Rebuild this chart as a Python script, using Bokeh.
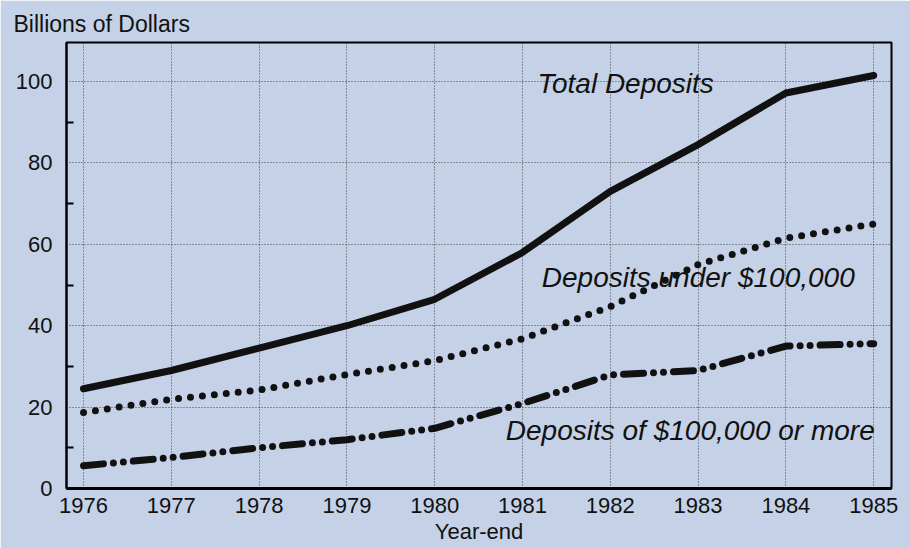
from bokeh.plotting import figure
from bokeh.models import Range1d, FixedTicker, Label
from bokeh.embed import file_html
from bokeh.resources import INLINE

years = [1976, 1977, 1978, 1979, 1980, 1981, 1982, 1983, 1984, 1985]
total = [24.5, 29.0, 34.5, 40.0, 46.5, 58.0, 73.0, 84.5, 97.2, 101.5]
under_100k = [18.7, 21.9, 24.2, 28.0, 31.4, 36.8, 44.7, 55.0, 61.5, 65.0]
over_100k = [5.6, 7.6, 10.0, 12.0, 14.8, 20.9, 27.9, 29.0, 35.0, 35.6]
y_ticks = [0, 20, 40, 60, 80, 100]
y_minor = [10, 30, 50, 70, 90]

BG = "#c4d1e6"
FONT = "Liberation Sans"

p = figure(width=910, height=548, output_backend="svg", toolbar_location=None,
           x_range=Range1d(1975.806, 1985.203), y_range=Range1d(0, 109.6),
           min_border_left=66, min_border_right=19, min_border_top=42, min_border_bottom=60)
p.background_fill_color = BG
p.border_fill_color = BG
p.outline_line_color = "black"
p.outline_line_width = 2

p.title.text = "Billions of Dollars"
p.title.align = "left"
p.title.offset = -53
p.title.text_font = FONT
p.title.text_font_style = "normal"
p.title.text_font_size = "23px"
p.title.text_color = "#111111"
p.title.standoff = 11

# axes
p.xaxis.ticker = FixedTicker(ticks=years)
p.yaxis.ticker = FixedTicker(ticks=y_ticks, minor_ticks=y_minor)
for ax in (p.xaxis[0], p.yaxis[0]):
    ax.axis_line_color = "black"
    ax.axis_line_width = 2
    ax.major_tick_in = 0
    ax.major_tick_out = 0
    ax.major_label_text_font = FONT
    ax.major_label_text_font_size = "22px"
    ax.major_label_text_color = "#111111"
p.xaxis.minor_tick_line_color = None
p.yaxis.minor_tick_in = 7
p.yaxis.minor_tick_out = 0
p.yaxis.minor_tick_line_color = "black"
p.yaxis.minor_tick_line_width = 2
p.yaxis.major_label_standoff = 14
p.xaxis.axis_line_width = 3
p.xaxis.major_label_standoff = 9
p.xaxis.axis_label = "Year-end"
p.xaxis.axis_label_text_font = FONT
p.xaxis.axis_label_text_font_style = "normal"
p.xaxis.axis_label_text_font_size = "22px"
p.xaxis.axis_label_text_color = "#111111"
p.xaxis.axis_label_standoff = 3

# grid
for g in (p.xgrid[0], p.ygrid[0]):
    g.grid_line_color = "#333333"
    g.grid_line_width = 1
    g.grid_line_dash = "1 2"
    g.grid_line_alpha = 0.9

# series
p.line(years, total, line_color="#111111", line_width=7, line_join="round", line_cap="round")
p.line(years, under_100k, line_color="#111111", line_width=7, line_dash="0 12", line_cap="round")
p.line(years, over_100k, line_color="#111111", line_width=7, line_dash="20 10 0 10 0 10", line_cap="round")

# labels
common = dict(text_font=FONT, text_font_style="italic", text_font_size="28px",
              text_color="#111111", text_baseline="middle", text_align="left")
p.add_layout(Label(x=1981.17, y=99.5, text="Total Deposits", **common))
p.add_layout(Label(x=1981.22, y=51.8, text="Deposits under $100,000", **common))
p.add_layout(Label(x=1980.81, y=14.3, text="Deposits of $100,000 or more", **common))

open("out.html", "w").write(file_html(p, INLINE))
